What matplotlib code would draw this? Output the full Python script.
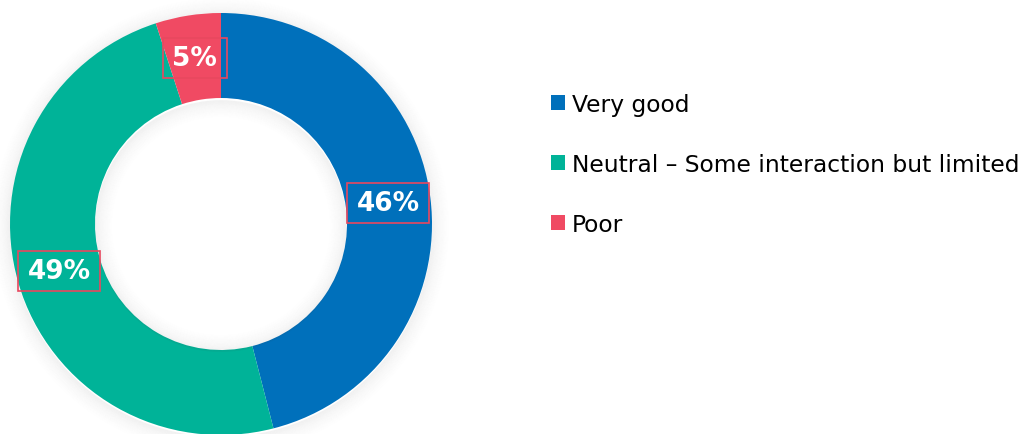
import numpy as np
import matplotlib.pyplot as plt
from matplotlib.patches import Wedge, Rectangle, Patch

categories = ['Very good', 'Neutral – Some interaction but limited', 'Poor']
shares = [46, 49, 5]
colors = ['#0070bb', '#00b398', '#f04a63']
box_color = '#e8485f'

W, H = 1027, 435
cx, cy = 221, H - 225
r_out, r_in = 211, 126

fig = plt.figure(figsize=(W / 100, H / 100), dpi=100)
ax = fig.add_axes([0, 0, 1, 1])

# soft shadow around the ring and inside the hole
for k in range(18):
    a = 0.06 * (1 - k / 18) ** 1.5
    ax.add_patch(Wedge((cx, cy - 2), r_out + 1 + k, 0, 360, width=1.2,
                       facecolor='#404040', edgecolor='none', alpha=a, zorder=1))
    ax.add_patch(Wedge((cx, cy - 2), r_in - k, 0, 360, width=1.2,
                       facecolor='#404040', edgecolor='none', alpha=a, zorder=3))

wedges, _ = ax.pie(shares, colors=colors, startangle=90, counterclock=False,
                   radius=r_out, center=(cx, cy),
                   wedgeprops=dict(width=r_out - r_in, edgecolor='none', zorder=2),
                   frame=True)

ax.set_xlim(0, W)
ax.set_ylim(0, H)
ax.set_aspect('auto')
ax.axis('off')

fig.canvas.draw()
renderer = fig.canvas.get_renderer()
r_mid = (r_out + r_in) / 2
for w, v in zip(wedges, shares):
    ang = np.deg2rad((w.theta1 + w.theta2) / 2)
    x = cx + r_mid * np.cos(ang)
    y = cy + r_mid * np.sin(ang)
    t = ax.text(x, y, f'{v}%', ha='center', va='center', color='white',
                fontsize=19, fontweight='bold', zorder=5)
    bb = t.get_window_extent(renderer)
    bw = bb.width + 19
    ax.add_patch(Rectangle((x - bw / 2, y - 20), bw, 40, facecolor='none',
                           edgecolor=box_color, lw=1.2, zorder=6))

handles = [Patch(facecolor=c, edgecolor='none') for c in colors]
ax.legend(handles, categories, loc='upper left', bbox_to_anchor=(551 / W, 1 - 94 / H),
          frameon=False, fontsize=16.8, handlelength=0.6, handleheight=0.6,
          handletextpad=0.3, labelspacing=1.58, borderaxespad=0, borderpad=0)

fig.savefig('out.png', dpi=100)
